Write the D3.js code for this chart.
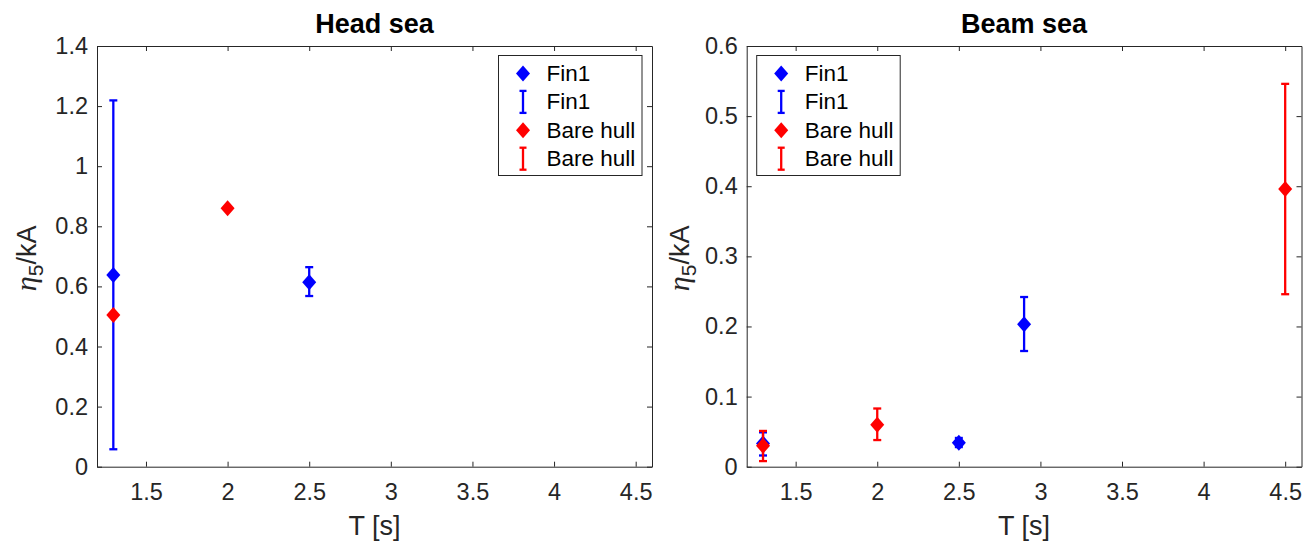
<!DOCTYPE html>
<html>
<head>
<meta charset="utf-8">
<script src="https://cdn.jsdelivr.net/npm/d3@7"></script>
<style>
  body { margin: 0; background: #fff; }
  svg text { font-family: "Liberation Sans", Arial, Helvetica, sans-serif; fill: #262626; }
</style>
</head>
<body>
<svg id="chart" width="1315" height="545"></svg>
<script>
// ---- data ----
var xTicks = [1.5, 2, 2.5, 3, 3.5, 4, 4.5];

// Head sea
var headFinT = [1.3, 2.5];
var headFinEta = [0.638, 0.614];
var headFinLo = [0.058, 0.568];
var headFinHi = [1.219, 0.664];
var headBareT = [1.3, 2.0];
var headBareEta = [0.505, 0.860];
var headBareLo = [0.505, 0.860];
var headBareHi = [0.505, 0.860];
var headYTicks = [0, 0.2, 0.4, 0.6, 0.8, 1, 1.2, 1.4];

// Beam sea
var beamFinT = [1.3, 2.5, 2.9];
var beamFinEta = [0.033, 0.034, 0.203];
var beamFinLo = [0.016, 0.028, 0.165];
var beamFinHi = [0.049, 0.041, 0.242];
var beamBareT = [1.3, 2.0, 4.5];
var beamBareEta = [0.030, 0.060, 0.396];
var beamBareLo = [0.008, 0.038, 0.246];
var beamBareHi = [0.051, 0.083, 0.546];
var beamYTicks = [0, 0.1, 0.2, 0.3, 0.4, 0.5, 0.6];

var legendLabels = ["Fin1", "Fin1", "Bare hull", "Bare hull"];

var AXIS_COLOR = "#262626";
var BLUE = "#0000ff", RED = "#ff0000";
var TICK_LEN = 5;

var svg = d3.select("#chart");

function zip(t, eta, lo, hi) {
  return t.map(function (d, i) { return { t: d, eta: eta[i], lo: lo[i], hi: hi[i] }; });
}

function diamondPath(w, h) {
  return "M0," + (-h) + "L" + w + ",0L0," + h + "L" + (-w) + ",0Z";
}

function drawPanel(cfg) {
  var x = d3.scaleLinear().domain([1.2, 4.6]).range([cfg.left, cfg.right]);
  var y = d3.scaleLinear().domain(cfg.yDomain).range([cfg.bottom, cfg.top]);
  var g = svg.append("g");

  // axes, MATLAB-like box with inward ticks
  var fmt = function (d) { return d3.format("")(d); };
  var bottom = g.append("g").attr("transform", "translate(0," + cfg.bottom + ")")
    .call(d3.axisBottom(x).tickValues(xTicks).tickFormat(fmt).tickSizeInner(-TICK_LEN).tickSizeOuter(0).tickPadding(17));
  var top = g.append("g").attr("transform", "translate(0," + cfg.top + ")")
    .call(d3.axisTop(x).tickValues(xTicks).tickFormat("").tickSizeInner(-TICK_LEN).tickSizeOuter(0));
  var left = g.append("g").attr("transform", "translate(" + cfg.left + ",0)")
    .call(d3.axisLeft(y).tickValues(cfg.yTicks).tickFormat(fmt).tickSizeInner(-TICK_LEN).tickSizeOuter(0).tickPadding(9));
  var right = g.append("g").attr("transform", "translate(" + cfg.right + ",0)")
    .call(d3.axisRight(y).tickValues(cfg.yTicks).tickFormat("").tickSizeInner(-TICK_LEN).tickSizeOuter(0));
  [bottom, top, left, right].forEach(function (a) {
    a.select(".domain").attr("stroke", AXIS_COLOR);
    a.selectAll(".tick line").attr("stroke", AXIS_COLOR);
    a.selectAll(".tick text").attr("fill", AXIS_COLOR).style("font-size", "23.5px")
      .style("font-family", '"Liberation Sans", Arial, sans-serif');
  });

  // title
  g.append("text").attr("x", (cfg.left + cfg.right) / 2).attr("y", 33)
    .attr("text-anchor", "middle").style("font-size", "27px").style("font-weight", "bold")
    .style("fill", "#000").text(cfg.title);

  // x label
  g.append("text").attr("x", (cfg.left + cfg.right) / 2).attr("y", 535)
    .attr("text-anchor", "middle").style("font-size", "27px").text("T [s]");

  // y label
  var yl = g.append("text")
    .attr("transform", "translate(" + cfg.yLabelX + "," + ((cfg.top + cfg.bottom) / 2 + 2) + ") rotate(-90)")
    .attr("text-anchor", "middle").style("font-size", "27px");
  yl.append("tspan").style("font-family", '"Liberation Serif", "DejaVu Serif", serif')
    .style("font-style", "italic").style("font-size", "30px").text("η");
  yl.append("tspan").attr("dy", 7).style("font-size", "21px").text("5");
  yl.append("tspan").attr("dy", -7).text("/kA");

  // series in MATLAB draw order: markers then errorbars, per series
  cfg.series.forEach(function (s) {
    var pts = s.data;
    g.append("g").selectAll("path").data(pts).enter().append("path")
      .attr("d", diamondPath(7, 8))
      .attr("transform", function (d) { return "translate(" + x(d.t) + "," + y(d.eta) + ")"; })
      .attr("fill", s.color);
    var eb = g.append("g").attr("stroke", s.color).attr("stroke-width", 2.3).attr("fill", "none");
    eb.selectAll("line.v").data(pts).enter().append("line").attr("class", "v")
      .attr("x1", function (d) { return x(d.t); }).attr("x2", function (d) { return x(d.t); })
      .attr("y1", function (d) { return y(d.lo); }).attr("y2", function (d) { return y(d.hi); });
    ["lo", "hi"].forEach(function (k) {
      eb.selectAll("line." + k).data(pts).enter().append("line").attr("class", k)
        .attr("x1", function (d) { return x(d.t) - 4; }).attr("x2", function (d) { return x(d.t) + 4; })
        .attr("y1", function (d) { return y(d[k]); }).attr("y2", function (d) { return y(d[k]); });
    });
  });

  // legend
  var lw = 143.5, lh = 120;
  var lx = cfg.legendRight ? cfg.right - 10 - lw : cfg.left + 10;
  var ly = 55.5;
  var lg = g.append("g").attr("transform", "translate(" + lx + "," + ly + ")");
  lg.append("rect").attr("width", lw).attr("height", lh).attr("fill", "#fff")
    .attr("stroke", AXIS_COLOR).attr("stroke-width", 1);
  var colors = [BLUE, BLUE, RED, RED];
  legendLabels.forEach(function (lab, i) {
    var cy = 18 + i * 28.4;
    var c = colors[i];
    if (i % 2 === 0) {
      lg.append("path").attr("d", diamondPath(7, 8)).attr("transform", "translate(24.5," + cy + ")").attr("fill", c);
    } else {
      var e = lg.append("g").attr("stroke", c).attr("stroke-width", 2.3);
      e.append("line").attr("x1", 24.5).attr("x2", 24.5).attr("y1", cy - 11).attr("y2", cy + 11);
      e.append("line").attr("x1", 21).attr("x2", 28).attr("y1", cy - 11).attr("y2", cy - 11);
      e.append("line").attr("x1", 21).attr("x2", 28).attr("y1", cy + 11).attr("y2", cy + 11);
    }
    lg.append("text").attr("x", 48).attr("y", cy + 7.5).style("font-size", "22.5px")
      .style("fill", "#000").text(lab);
  });
}

drawPanel({
  title: "Head sea", left: 97, right: 652, top: 46, bottom: 466.7, yLabelX: 36,
  yDomain: [0, 1.4], yTicks: headYTicks, legendRight: true,
  series: [
    { color: BLUE, data: zip(headFinT, headFinEta, headFinLo, headFinHi) },
    { color: RED, data: zip(headBareT, headBareEta, headBareLo, headBareHi) }
  ]
});

drawPanel({
  title: "Beam sea", left: 746.7, right: 1301.5, top: 46, bottom: 466.7, yLabelX: 689,
  yDomain: [0, 0.6], yTicks: beamYTicks, legendRight: false,
  series: [
    { color: BLUE, data: zip(beamFinT, beamFinEta, beamFinLo, beamFinHi) },
    { color: RED, data: zip(beamBareT, beamBareEta, beamBareLo, beamBareHi) }
  ]
});
</script>
</body>
</html>
